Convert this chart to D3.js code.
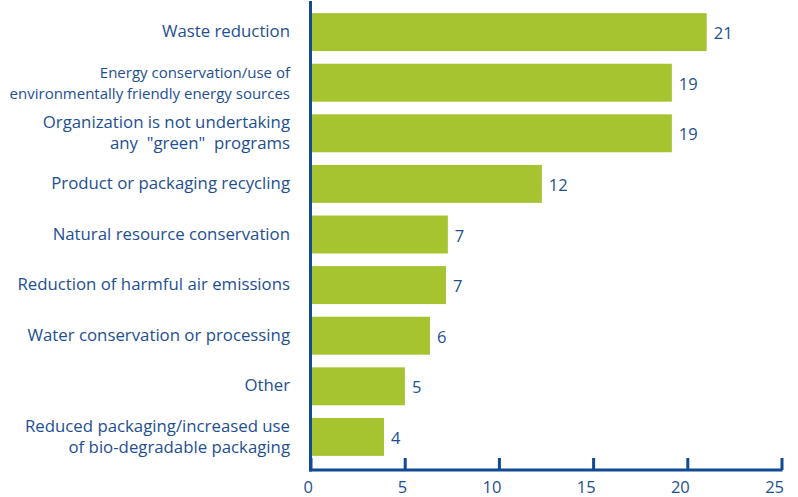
<!DOCTYPE html>
<html>
<head>
<meta charset="utf-8">
<script src="https://cdn.jsdelivr.net/npm/d3@7"></script>
<style>
  body { margin: 0; background: #fff; }
  svg { display: block; }
  text { font-family: "Open Sans", sans-serif; fill: #1d4f91; }
</style>
</head>
<body>
<svg id="chart" width="798" height="497"></svg>
<script>
const categories = [
  ["Waste reduction"],
  ["Energy conservation/use of", "environmentally friendly energy sources"],
  ["Organization is not undertaking", "any \u00a0\"green\"\u00a0 programs"],
  ["Product or packaging recycling"],
  ["Natural resource conservation"],
  ["Reduction of harmful air emissions"],
  ["Water conservation or processing"],
  ["Other"],
  ["Reduced packaging/increased use", "of bio-degradable packaging"]
];
const values = [21.03, 19.18, 19.18, 12.28, 7.29, 7.19, 6.34, 5.01, 3.9];
const valueLabels = ["21", "19", "19", "12", "7", "7", "6", "5", "4"];
const ticks = [0, 5, 10, 15, 20, 25];

const svg = d3.select("#chart");
const axisColor = "#0f4a93";
const barColor = "#a5c42f";

const x = d3.scaleLinear().domain([0, 25]).range([310.5, 781.5]);
const y = d3.scaleBand().domain(d3.range(categories.length))
  .range([3, 466]).paddingInner(0.25).paddingOuter(0.2);

// bars
svg.selectAll("rect.bar").data(values).enter().append("rect")
  .attr("class", "bar")
  .attr("x", x(0))
  .attr("y", (d, i) => y(i))
  .attr("width", d => x(d) - x(0))
  .attr("height", y.bandwidth())
  .attr("fill", barColor);

// value labels
svg.selectAll("text.val").data(values).enter().append("text")
  .attr("class", "val")
  .attr("x", d => x(d) + 7)
  .attr("y", (d, i) => y(i) + y.bandwidth() / 2 + 7)
  .attr("font-size", 16.5)
  .text((d, i) => valueLabels[i]);

// category labels
const lab = svg.selectAll("text.cat").data(categories).enter().append("text")
  .attr("class", "cat")
  .attr("text-anchor", "end")
  .attr("font-size", d => d3.max(d, s => s.length) > 34 ? 15 : 16.8)
  .attr("x", 290)
  .attr("y", (d, i) => {
    const c = y(i) + y.bandwidth() / 2;
    return d.length === 1 ? c + 5 : c - 5;
  });
lab.each(function(d) {
  const t = d3.select(this);
  d.forEach((line, j) => {
    t.append("tspan").attr("x", 290).attr("dy", j === 0 ? 0 : 21).text(line);
  });
});

// x axis
const axisY = 470;
const ax = svg.append("g").attr("transform", `translate(0,${axisY})`)
  .call(d3.axisBottom(x).tickValues(ticks).tickSize(-12).tickPadding(20).tickFormat(d3.format("d")));
ax.select(".domain").attr("stroke", axisColor).attr("stroke-width", 3).attr("d", `M${x(0)-1},0H${x(25)+1}`);
ax.selectAll(".tick line").attr("stroke", axisColor).attr("stroke-width", 3);
ax.selectAll(".tick text").attr("font-size", 16.5).attr("fill", "#1d4f91")
  .attr("font-family", "Open Sans, sans-serif").attr("dy", "0.2em")
  .attr("text-anchor", "end").attr("dx", 2);

// y axis line
svg.append("line")
  .attr("x1", x(0)).attr("x2", x(0))
  .attr("y1", 1).attr("y2", axisY + 1.5)
  .attr("stroke", axisColor).attr("stroke-width", 3);
</script>
</body>
</html>
